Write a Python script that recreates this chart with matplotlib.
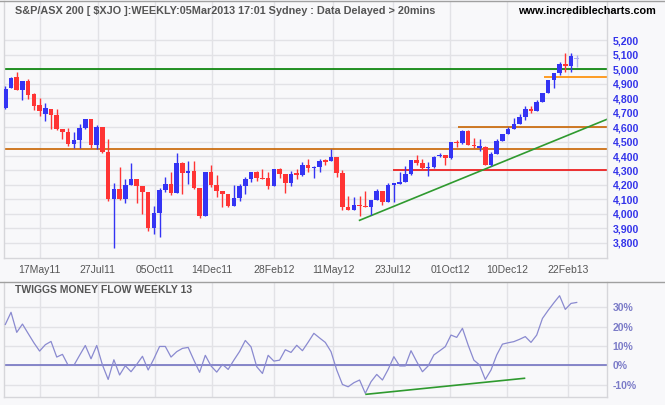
import numpy as np
import pandas as pd
import matplotlib
matplotlib.use('Agg')
from matplotlib import pyplot as plt
from matplotlib.lines import Line2D

plt.rcParams['font.family'] = ['Liberation Sans', 'DejaVu Sans']

# weekly candles, first week and OHLC
first_week = pd.Timestamp('2011-04-05')
opens = [4735, 4873, 4947, 4859, 4919, 4827, 4753, 4693, 4725, 4684,
         4587, 4566, 4483, 4511, 4594, 4656, 4476, 4601, 4428, 4105,
         4172, 4105, 4199, 4241, 4192, 4151, 3902, 4006, 4165, 4206,
         4144, 4352, 4282, 4296, 4179, 3985, 4289, 4199, 4158, 4137,
         4054, 4109, 4192, 4241, 4289, 4248, 4248, 4192, 4310, 4275,
         4213, 4275, 4269, 4338, 4319, 4324, 4365, 4365, 4393, 4282,
         4047, 4026, 4061, 4054, 4047, 4096, 4158, 4082, 4202, 4206,
         4220, 4275, 4372, 4352, 4319, 4324, 4400, 4407, 4388, 4497,
         4492, 4575, 4475, 4458, 4462, 4340, 4416, 4504, 4550, 4587,
         4622, 4668, 4723, 4712, 4774, 4836, 4926, 4974, 5037, 5025,
         5071]
highs = [4884, 4947, 4981, 4919, 4933, 4836, 4801, 4767, 4725, 4725,
         4587, 4594, 4566, 4622, 4656, 4656, 4615, 4601, 4518, 4213,
         4324, 4241, 4352, 4241, 4192, 4151, 4054, 4176, 4255, 4289,
         4421, 4359, 4365, 4365, 4179, 4289, 4338, 4269, 4158, 4137,
         4199, 4206, 4255, 4289, 4296, 4310, 4289, 4310, 4317, 4275,
         4296, 4310, 4359, 4379, 4331, 4379, 4379, 4448, 4393, 4303,
         4123, 4116, 4123, 4158, 4096, 4172, 4158, 4213, 4206, 4289,
         4331, 4372, 4407, 4379, 4359, 4400, 4421, 4407, 4497, 4511,
         4580, 4580, 4525, 4518, 4469, 4428, 4518, 4550, 4598, 4661,
         4691, 4746, 4746, 4788, 4836, 4926, 4974, 5051, 5113, 5113,
         5099]
lows = [4725, 4873, 4859, 4790, 4794, 4718, 4679, 4645, 4589, 4580,
        4520, 4471, 4455, 4455, 4589, 4455, 4448, 4421, 4091, 3766,
        4098, 4077, 4199, 4077, 4001, 3883, 3863, 3842, 4149, 4130,
        4144, 4137, 4206, 4172, 3971, 3985, 4185, 4116, 4047, 4047,
        4054, 4089, 4137, 4220, 4227, 4243, 4172, 4192, 4248, 4144,
        4192, 4241, 4262, 4289, 4248, 4289, 4338, 4365, 4255, 4026,
        4026, 4026, 3985, 4047, 3992, 4096, 4061, 4082, 4082, 4206,
        4220, 4269, 4338, 4303, 4262, 4317, 4393, 4338, 4379, 4462,
        4483, 4478, 4458, 4437, 4340, 4333, 4416, 4504, 4550, 4587,
        4622, 4649, 4695, 4712, 4774, 4836, 4873, 4963, 4981, 4981,
        5016]
closes = [4864, 4940, 4859, 4919, 4824, 4748, 4714, 4735, 4684, 4589,
          4566, 4483, 4511, 4594, 4656, 4476, 4601, 4428, 4105, 4172,
          4105, 4199, 4241, 4192, 4153, 3902, 4006, 4165, 4206, 4144,
          4352, 4282, 4296, 4179, 3985, 4289, 4199, 4158, 4137, 4054,
          4109, 4192, 4241, 4289, 4248, 4243, 4192, 4310, 4275, 4213,
          4275, 4271, 4338, 4319, 4324, 4365, 4361, 4393, 4282, 4047,
          4026, 4061, 4056, 4047, 4096, 4158, 4082, 4199, 4206, 4220,
          4275, 4372, 4352, 4317, 4324, 4393, 4407, 4388, 4497, 4492,
          4575, 4478, 4471, 4460, 4340, 4412, 4504, 4550, 4587, 4622,
          4668, 4723, 4712, 4774, 4836, 4926, 4974, 5037, 5025, 5092,
          5073]

# twiggs money flow (13 week), percent
tmf = [21.2, 27.5, 17.1, 21.4, 16.5, 11.7, 7.4, 10.7, 12.4, 4.3,
       5.7, 0.0, 0.0, 5.2, 10.3, 3.4, 10.3, 0.2, -7.3, 2.9,
       -5.0, -0.2, -3.3, 0.5, 4.7, -2.4, 3.4, 9.8, 9.8, 4.3,
       7.1, 8.8, 9.3, 2.7, -3.6, 5.2, -0.3, -3.5, 0.5, -2.1,
       2.7, 7.2, 12.9, 9.6, -0.7, -4.2, 5.2, 2.2, 2.7, 8.1,
       6.7, 10.4, 7.6, 12.0, 16.6, 14.2, 11.9, 7.1, -2.4, -9.9,
       -11.1, -9.0, -7.6, -14.5, -8.5, -4.7, -7.6, -2.1, 4.5, -0.3,
       -0.3, 7.6, 1.9, -3.3, -0.3, 5.4, 7.5, 9.7, 15.7, 14.5,
       19.2, 10.5, 2.7, 0.2, -7.3, -2.4, 5.4, 11.0, 11.7, 12.3,
       13.5, 14.9, 11.9, 15.7, 24.3, 28.5, 32.4, 36.1, 29.0, 32.1,
       32.6]

tick_dates = ['2011-05-17', '2011-07-27', '2011-10-05', '2011-12-14', '2012-02-28',
              '2012-05-11', '2012-07-23', '2012-10-01', '2012-12-10', '2013-02-22']
price_ticks = [3800, 3900, 4000, 4100, 4200, 4300, 4400, 4500, 4600, 4700,
               4800, 4900, 5000, 5100, 5200]
tmf_ticks = [-10, 0, 10, 20, 30]

# horizontal support / resistance lines: level, start date (None = whole chart), colour
levels = [(5000, None, '#008000'),
          (4450, None, '#c86400'),
          (4300, '2012-07-23', '#ee1111'),
          (4600, '2012-10-10', '#c86400'),
          (4950, '2013-01-24', '#ff8c00')]
price_trend_dates = ['2012-06-12', '2013-04-11']
price_trend_vals = [3955, 4654]
tmf_trend_dates = ['2012-06-20', '2012-12-31']
tmf_trend_vals = [-15.0, -6.7]

title = 'S&P/ASX 200 [ $XJO ]:WEEKLY:05Mar2013 17:01 Sydney : Data Delayed > 20mins'


def to_x(d):
    return (pd.Timestamp(d) - first_week).days / 7.0


W, H = 665, 405
bg = '#f8f8fa'
grid_c = '#e2e2e6'
fig = plt.figure(figsize=(W / 100, H / 100), dpi=100)
fig.patch.set_facecolor(bg)

def fy(y):
    return 1 - y / H

ax = fig.add_axes([4 / W, fy(258), 603 / W, 257 / H])
ax2 = fig.add_axes([4 / W, fy(397), 603 / W, 115 / H])

n = len(opens)
x = np.arange(n)
o = np.array(opens, float)
hi = np.array(highs, float)
lo = np.array(lows, float)
c = np.array(closes, float)
cols = np.where(c >= o, '#3434f4', '#ff3434').astype(object)
cols[-1] = '#b0b0f0'

xmin, xmax = -0.23, 105.3
tick_x = [to_x(d) for d in tick_dates]
tick_lab = [pd.Timestamp(d).strftime('%d%b%y') for d in tick_dates]

for a in (ax, ax2):
    a.set_facecolor(bg)
    a.set_xlim(xmin, xmax)
    a.set_xticks(tick_x)
    a.grid(True, color=grid_c, lw=1)
    a.set_axisbelow(True)
    a.yaxis.tick_right()
    for s in a.spines.values():
        s.set_color('#d6d6da')
        s.set_linewidth(1)

# price panel
ax.vlines(x, lo, hi, colors=list(cols), lw=1, zorder=3)
ax.bar(x, np.maximum(np.abs(c - o), 8), bottom=np.minimum(o, c), width=0.8,
       color=list(cols), linewidth=0, zorder=3)
for lev, start, col in levels:
    x0 = xmin if start is None else to_x(start)
    ax.hlines(lev, x0, xmax, color=col, lw=1.2, zorder=2)
ax.plot([to_x(d) for d in price_trend_dates], price_trend_vals, color='#2f9a2f', lw=1.2, zorder=2)

ax.set_ylim(3694, 5473)
ax.set_yticks(price_ticks)
ax.set_yticklabels([f'{v:,}' for v in price_ticks], fontweight='bold')
ax.tick_params(axis='y', length=0, pad=4, labelsize=7.6, labelcolor='#3434ea')
ax.set_xticklabels(tick_lab)
ax.tick_params(axis='x', length=0, pad=5, labelsize=7.5, labelcolor='#555555')
ax.spines['top'].set_visible(False)

# money flow panel
ax2.axhline(0, color='#7474c2', lw=1.2, zorder=2)
ax2.plot(x, tmf, color='#8a8ad0', lw=0.9, zorder=3)
ax2.plot([to_x(d) for d in tmf_trend_dates], tmf_trend_vals, color='#2f9a2f', lw=1.2, zorder=3)
ax2.set_ylim(-16.4, 43.2)
ax2.set_yticks(tmf_ticks)
ax2.set_yticklabels([f'{v}%' for v in tmf_ticks], fontweight='bold')
ax2.tick_params(axis='y', length=0, pad=4, labelsize=7.5, labelcolor='#7c7cc8')
ax2.tick_params(axis='x', length=0, labelbottom=False)
ax2.spines['top'].set_visible(False)

# frame lines and headings
fig.add_artist(Line2D([0, 1], [fy(0.5), fy(0.5)], color='#a0a0a0', lw=1))
fig.add_artist(Line2D([0, 1], [fy(282), fy(282)], color='#a0a0a0', lw=1))
fig.text(15 / W, fy(11), title, fontsize=7.85, fontweight='bold', color='#555555',
         ha='left', va='center')
fig.text(656 / W, fy(11), 'www.incrediblecharts.com', fontsize=7.8, fontweight='bold',
         color='black', ha='right', va='center')
fig.text(15 / W, fy(290), 'TWIGGS MONEY FLOW WEEKLY 13', fontsize=7.5, fontweight='bold',
         color='#555555', ha='left', va='center')

fig.savefig('out.png', dpi=100, facecolor=fig.get_facecolor())
